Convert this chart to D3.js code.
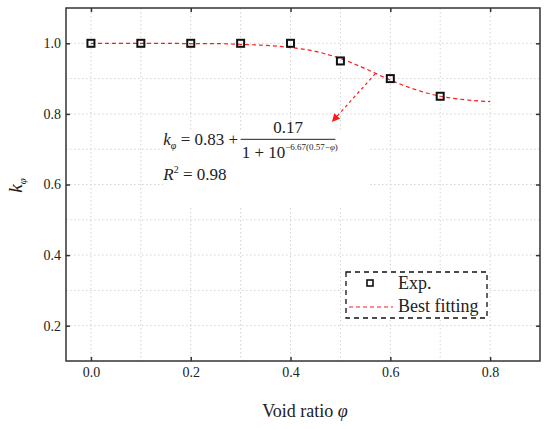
<!DOCTYPE html>
<html lang="en">
<head>
<meta charset="UTF-8" />
<title>k_phi vs void ratio</title>
<script src="https://cdn.jsdelivr.net/npm/d3@7/dist/d3.min.js"></script>
<style>
	body { margin: 0; background: #fff; }
	svg text { font-family: "Liberation Serif", "DejaVu Serif", serif; fill: #222; }
</style>
</head>
<body>
<svg id="vis" width="550" height="429"></svg>
<script>
// experimental points
var voidRatio = [0, 0.1, 0.2, 0.3, 0.4, 0.5, 0.6, 0.7];
var kExp = [1.0, 1.0, 1.0, 1.0, 1.0, 0.95, 0.90, 0.85];

// best fitting curve
var fitX = [0, 0.05, 0.1, 0.15, 0.2, 0.25, 0.3, 0.35, 0.4, 0.45, 0.5, 0.55, 0.6, 0.65, 0.7, 0.75, 0.8];
var fitK = [1.0, 1.0, 1.0, 1.0, 0.999, 0.999, 0.997, 0.994, 0.988, 0.977, 0.957, 0.928, 0.896, 0.869, 0.850, 0.840, 0.835];

// ticks and grid
var xTicks = [0, 0.2, 0.4, 0.6, 0.8];
var yTicks = [0.2, 0.4, 0.6, 0.8, 1.0];
var xGrid = [0, 0.1, 0.2, 0.3, 0.4, 0.5, 0.6, 0.7, 0.8];
var yGrid = [0.2, 0.3, 0.4, 0.5, 0.6, 0.7, 0.8, 0.9, 1.0];

// arrow pointing to the equation
var arrowFrom = [0.57, 0.914];
var arrowTo = [0.484, 0.779];

var serif = "'Liberation Serif', 'DejaVu Serif', serif";
var svg = d3.select("#vis");
var pLeft = 66, pRight = 540, pTop = 8, pBottom = 361;

var x = d3.scaleLinear().domain([-0.05, 0.9]).range([pLeft, pRight]);
var y = d3.scaleLinear().domain([0.1, 1.1]).range([pBottom, pTop]);

var defs = svg.append("defs");
defs.append("marker")
	.attr("id", "head")
	.attr("viewBox", "0 0 10 10")
	.attr("refX", 9).attr("refY", 5)
	.attr("markerWidth", 9).attr("markerHeight", 8)
	.attr("markerUnits", "userSpaceOnUse")
	.attr("orient", "auto")
	.append("path")
	.attr("d", "M0,0 L10,5 L0,10 Z")
	.attr("fill", "#ff1a1a");

svg.append("rect")
	.attr("x", pLeft).attr("y", pTop)
	.attr("width", pRight - pLeft).attr("height", pBottom - pTop)
	.attr("fill", "#fff");

// grid
var grid = svg.append("g")
	.attr("stroke", "#d2d2d2")
	.attr("stroke-width", 1)
	.attr("stroke-dasharray", "1.5,2.5");
grid.selectAll(".gx").data(xGrid).enter().append("line")
	.attr("x1", function(d) { return x(d); }).attr("x2", function(d) { return x(d); })
	.attr("y1", pTop).attr("y2", pBottom);
grid.selectAll(".gy").data(yGrid).enter().append("line")
	.attr("y1", function(d) { return y(d); }).attr("y2", function(d) { return y(d); })
	.attr("x1", pLeft).attr("x2", pRight);

// axes with inward ticks
var fmt = d3.format(".1f");
var gx = svg.append("g")
	.attr("transform", "translate(0," + pBottom + ")")
	.call(d3.axisBottom(x).tickValues(xTicks).tickFormat(fmt).tickSizeInner(-4).tickSizeOuter(0).tickPadding(6));
var gy = svg.append("g")
	.attr("transform", "translate(" + pLeft + ",0)")
	.call(d3.axisLeft(y).tickValues(yTicks).tickFormat(fmt).tickSizeInner(-4).tickSizeOuter(0).tickPadding(5));
var gt = svg.append("g")
	.attr("transform", "translate(0," + pTop + ")")
	.call(d3.axisTop(x).tickValues(xTicks).tickFormat("").tickSizeInner(-4).tickSizeOuter(0));
var gr = svg.append("g")
	.attr("transform", "translate(" + pRight + ",0)")
	.call(d3.axisRight(y).tickValues(yTicks).tickFormat("").tickSizeInner(-4).tickSizeOuter(0));

[gx, gy, gt, gr].forEach(function(g) {
	g.attr("font-family", serif).attr("font-size", 14);
	g.select(".domain").remove();
	g.selectAll(".tick line").attr("stroke", "#333").attr("stroke-width", 1.5);
	g.selectAll(".tick text").attr("fill", "#222").style("font-family", serif);
});

svg.append("rect")
	.attr("x", pLeft).attr("y", pTop)
	.attr("width", pRight - pLeft).attr("height", pBottom - pTop)
	.attr("fill", "none")
	.attr("stroke", "#333")
	.attr("stroke-width", 1.5);

// equation box (white background)
var eqX = x(0.145), eqY = y(0.711);
svg.append("rect")
	.attr("x", x(0.144)).attr("y", y(0.75))
	.attr("width", x(0.558) - x(0.144))
	.attr("height", y(0.535) - y(0.75))
	.attr("fill", "#fff");

var eq = svg.append("g").attr("font-size", 17).style("font-family", serif);
var t1 = eq.append("text").attr("x", eqX).attr("y", eqY);
t1.append("tspan").attr("font-style", "italic").text("k");
t1.append("tspan").attr("font-style", "italic").attr("font-size", 10).attr("dy", 4).text("φ");
t1.append("tspan").attr("dy", -4).text(" = 0.83 +");

var fracL = x(0.3), fracR = x(0.49);
eq.append("line")
	.attr("x1", fracL).attr("x2", fracR)
	.attr("y1", eqY - 6).attr("y2", eqY - 6)
	.attr("stroke", "#222").attr("stroke-width", 1);
eq.append("text")
	.attr("x", (fracL + fracR) / 2).attr("y", eqY - 12)
	.attr("text-anchor", "middle")
	.text("0.17");
var den = eq.append("text").attr("x", fracL + 1).attr("y", eqY + 13);
den.append("tspan").text("1 + 10");
den.append("tspan").attr("font-size", 9).attr("dy", -8).text("−6.67(0.57−");
den.append("tspan").attr("font-size", 9).attr("font-style", "italic").text("φ");
den.append("tspan").attr("font-size", 9).text(")");

var t2 = eq.append("text").attr("x", eqX).attr("y", eqY + 35);
t2.append("tspan").attr("font-style", "italic").text("R");
t2.append("tspan").attr("font-size", 10).attr("dy", -7).text("2");
t2.append("tspan").attr("dy", 7).text(" = 0.98");

// fitting curve
var line = d3.line()
	.x(function(d, i) { return x(fitX[i]); })
	.y(function(d) { return y(d); })
	.curve(d3.curveMonotoneX);
svg.append("path")
	.attr("d", line(fitK))
	.attr("fill", "none")
	.attr("stroke", "#ff1a1a")
	.attr("stroke-width", 1.2)
	.attr("stroke-dasharray", "4,3");

// arrow
svg.append("line")
	.attr("x1", x(arrowFrom[0])).attr("y1", y(arrowFrom[1]))
	.attr("x2", x(arrowTo[0])).attr("y2", y(arrowTo[1]))
	.attr("stroke", "#ff1a1a")
	.attr("stroke-width", 1.2)
	.attr("stroke-dasharray", "3,3")
	.attr("marker-end", "url(#head)");

// experimental squares
svg.selectAll(".pt").data(kExp).enter().append("rect")
	.attr("x", function(d, i) { return x(voidRatio[i]) - 3.5; })
	.attr("y", function(d) { return y(d) - 3.5; })
	.attr("width", 7).attr("height", 7)
	.attr("fill", "none")
	.attr("stroke", "#111")
	.attr("stroke-width", 2);

// legend
var lg = svg.append("g").style("font-family", serif);
lg.append("rect")
	.attr("x", 346).attr("y", 272)
	.attr("width", 141).attr("height", 46)
	.attr("fill", "#fff")
	.attr("stroke", "#111")
	.attr("stroke-width", 1.3)
	.attr("stroke-dasharray", "5,4");
lg.append("rect")
	.attr("x", 367).attr("y", 280)
	.attr("width", 6).attr("height", 6)
	.attr("fill", "none").attr("stroke", "#111").attr("stroke-width", 1.6);
lg.append("text").attr("x", 398).attr("y", 289).attr("font-size", 18).text("Exp.");
lg.append("line")
	.attr("x1", 349).attr("x2", 393).attr("y1", 307).attr("y2", 307)
	.attr("stroke", "#ff1a1a").attr("stroke-width", 1.2).attr("stroke-dasharray", "4,3");
lg.append("text").attr("x", 398).attr("y", 312).attr("font-size", 18).text("Best fitting");

// axis titles
var xl = svg.append("text")
	.attr("x", (pLeft + pRight) / 2 + 2).attr("y", 417)
	.attr("text-anchor", "middle")
	.attr("font-size", 18)
	.style("font-family", serif);
xl.append("tspan").text("Void ratio ");
xl.append("tspan").attr("font-style", "italic").text("φ");

var yl = svg.append("text")
	.attr("transform", "translate(22," + ((pTop + pBottom) / 2 + 1) + ") rotate(-90)")
	.attr("text-anchor", "middle")
	.attr("font-size", 19)
	.style("font-family", serif);
yl.append("tspan").attr("font-style", "italic").text("k");
yl.append("tspan").attr("font-style", "italic").attr("font-size", 11).attr("dy", 4).text("φ");
</script>
</body>
</html>
